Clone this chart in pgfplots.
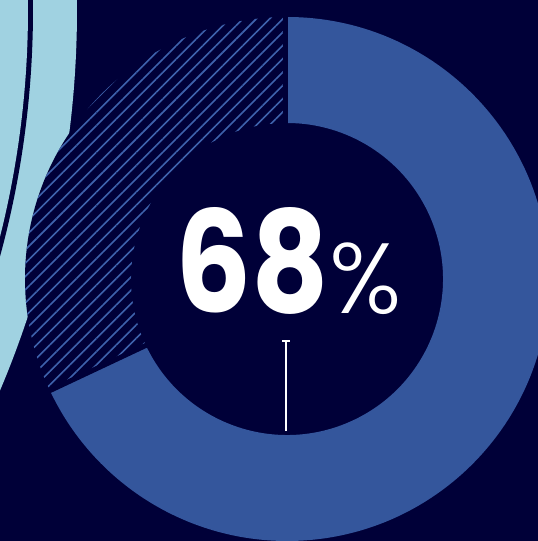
\documentclass[border=0pt]{standalone}
\usepackage{pgfplots}
\pgfplotsset{compat=1.18}
\usepackage{pgfplotstable}
\usepackage{graphicx}
\usepackage{fontspec}
\newfontfamily\popbold{Poppins}[UprightFont={* Bold}]
\newfontfamily\poplight{Poppins}[UprightFont={* Light}]
\usetikzlibrary{patterns.meta,calc}
\definecolor{navy}{RGB}{0,0,56}
\definecolor{ringblue}{RGB}{52,86,156}
\definecolor{hatchblue}{RGB}{62,98,172}
\definecolor{lightblue}{RGB}{160,210,225}

\pgfplotstableread{
part value
yes 68
no 32
}\sharetable

\begin{document}
\begin{tikzpicture}
\pgfplotstablegetelem{0}{value}\of\sharetable
\pgfmathsetmacro{\yesval}{\pgfplotsretval}
\pgfmathsetmacro{\endang}{90-3.6*\yesval}
\pgfmathsetmacro{\hatchend}{\endang+360}
\useasboundingbox (0,0) rectangle (538bp,541bp);
\fill[navy] (0,0) rectangle (538bp,541bp);
\begin{axis}[at={(0,0)}, anchor=south west, scale only axis,
  width=538bp, height=541bp, xmin=0, xmax=538, ymin=-541, ymax=0,
  hide axis, clip=true]
% decorative arcs on the left
\fill[lightblue] (axis cs:-901,-9.5) circle[radius=978bp];
\fill[navy] (axis cs:-901,-9.5) circle[radius=934bp];
\fill[lightblue] (axis cs:-901,-9.5) circle[radius=929bp];
\fill[navy] (axis cs:287,-279) circle[radius=262bp];
% solid segment
\fill[ringblue] ($(axis cs:287,-279)+(90:262bp)$) arc[start angle=90, end angle=\endang, radius=262bp]
  -- ($(axis cs:287,-279)+(\endang:156bp)$) arc[start angle=\endang, end angle=90, radius=156bp] -- cycle;
% hatched segment
\fill[pattern={Lines[angle=45, distance=9.4bp, line width=1.6bp]}, pattern color=hatchblue]
  ($(axis cs:287,-279)+(90:262bp)$) arc[start angle=90, end angle=\hatchend, radius=262bp]
  -- ($(axis cs:287,-279)+(\hatchend:156bp)$) arc[start angle=\hatchend, end angle=90, radius=156bp] -- cycle;
% separators
\draw[navy, line width=5bp] ($(axis cs:285.5,-279)+(90:150bp)$) -- ($(axis cs:285.5,-279)+(90:270bp)$);
\draw[navy, line width=5bp] ($(axis cs:287,-279)+(\endang:150bp)$) -- ($(axis cs:287,-279)+(\endang:270bp)$);
% pointer
\addplot[white, line width=1.5bp] coordinates {(286,-341) (286,-431)};
\addplot[white, line width=1.5bp] coordinates {(282,-341) (290,-341)};
\node[white, anchor=base, inner sep=0pt] at (axis cs:252.5,-313)
  {\scalebox{0.85}[1]{\fontsize{141.5}{145}\selectfont\popbold 68}};
\node[white, anchor=base, inner sep=0pt] at (axis cs:365.5,-314)
  {\fontsize{100}{100}\selectfont\poplight\%};
\end{axis}
\end{tikzpicture}
\end{document}
